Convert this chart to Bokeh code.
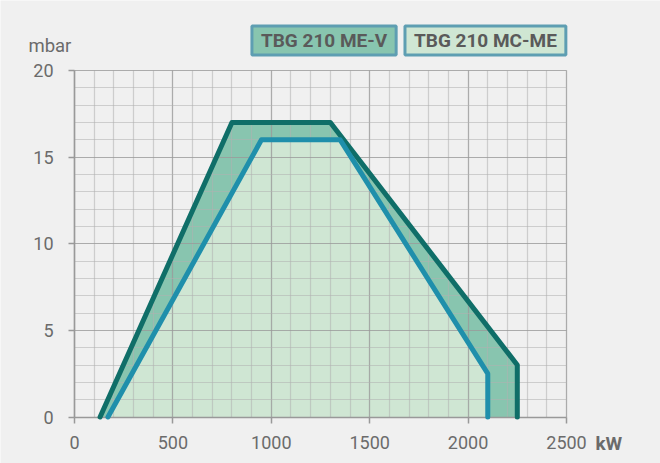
from bokeh.plotting import figure
from bokeh.models import Range1d, SingleIntervalTicker, Label
from bokeh.embed import file_html
from bokeh.resources import INLINE

# Data: working field curves (kW vs mbar)
mev_x = [130, 800, 1300, 2250, 2250]
mev_y = [0, 17, 17, 3, 0]
mcme_x = [170, 950, 1350, 2100, 2100]
mcme_y = [0, 16, 16, 2.5, 0]

series_names = ["TBG 210 ME-V", "TBG 210 MC-ME"]
x_axis_max = 2500
y_axis_max = 20
x_ticks_interval = 500
y_ticks_interval = 5

BG = "#f0f0f0"
DARK = "#0f6e68"
BLUE = "#1f8fab"
MID_FILL = "#88c5af"
LIGHT_FILL = "#cfe6d3"
TXT = "#5a5a5a"
TICK_TXT = "#6b6b6b"
FONT = "Roboto"

W, H = 660, 463
# frame spans the whole canvas; the chart area (0..2500, 0..20) sits at px 74..566 / 416.5..70
px_x = (566 - 74) / x_axis_max
px_y = (416.5 - 70) / y_axis_max
x0 = -74 / px_x
x1 = (W - 74) / px_x
y1 = 416.5 / px_y
y0 = -(H - 416.5) / px_y

p = figure(width=W, height=H, output_backend="svg", toolbar_location=None,
           x_range=Range1d(x0, x1), y_range=Range1d(y0, y1), min_border=0)
p.background_fill_color = BG
p.border_fill_color = BG
p.outline_line_color = None

p.xaxis.ticker = SingleIntervalTicker(interval=x_ticks_interval, num_minor_ticks=5)
p.yaxis.ticker = SingleIntervalTicker(interval=y_ticks_interval, num_minor_ticks=5)
p.xaxis.fixed_location = 0
p.yaxis.fixed_location = 0
p.xaxis.bounds = (0, x_axis_max)
p.yaxis.bounds = (0, y_axis_max)

for ax in (p.xaxis[0], p.yaxis[0]):
    ax.axis_line_color = "#999999"
    ax.axis_line_width = 1.5
    ax.major_tick_line_color = "#999999"
    ax.major_tick_line_width = 1.5
    ax.major_tick_out = 6
    ax.major_tick_in = 0
    ax.minor_tick_line_color = None
    ax.major_label_text_font = FONT
    ax.major_label_text_font_size = "18px"
    ax.major_label_text_color = TICK_TXT
p.yaxis.major_label_standoff = 15
p.xaxis.major_label_standoff = 13

p.xgrid.bounds = (0, x_axis_max)
p.ygrid.bounds = (0, y_axis_max)
p.xgrid.cross_bounds = (0, y_axis_max)
p.ygrid.cross_bounds = (0, x_axis_max)
for g in (p.xgrid[0], p.ygrid[0]):
    g.grid_line_color = "#909090"
    g.grid_line_alpha = 0.55
    g.grid_line_width = 1.2
    g.minor_grid_line_color = "#b0b0b0"
    g.minor_grid_line_alpha = 0.55
    g.minor_grid_line_width = 1.2
    g.level = "glyph"

# fills
r1 = p.patch(mev_x, mev_y, fill_color=MID_FILL, line_color=None)
r2 = p.patch(mcme_x, mcme_y, fill_color=LIGHT_FILL, line_color=None)
r1.level = "underlay"
r2.level = "underlay"

# outlines
l1 = p.line(mev_x, mev_y, line_color=DARK, line_width=5, line_cap="round", line_join="round")
l2 = p.line(mcme_x, mcme_y, line_color=BLUE, line_width=5, line_cap="round", line_join="round")
l1.level = "overlay"
l2.level = "overlay"

# axis unit labels
p.add_layout(Label(x=-234, y=21.44, text="mbar", text_font=FONT, text_font_size="18.5px",
                   text_color=TICK_TXT, text_baseline="middle", text_align="left"))
p.add_layout(Label(x=2647, y=-1.53, text="kW", text_font=FONT, text_font_size="19px",
                   text_font_style="bold", text_color=TICK_TXT,
                   text_baseline="middle", text_align="left"))

# legend boxes
for name, xc, fill in zip(series_names, [1268, 2088], [MID_FILL, LIGHT_FILL]):
    p.add_layout(Label(x=xc, y=21.73, text=name, text_font=FONT, text_font_size="19px",
                       text_font_style="bold", text_color=TXT,
                       text_align="center", text_baseline="middle",
                       background_fill_color=fill, border_line_color="#5e9eb2",
                       border_line_width=3, padding=(9, 3)))

open("out.html", "w").write(file_html(p, INLINE))
